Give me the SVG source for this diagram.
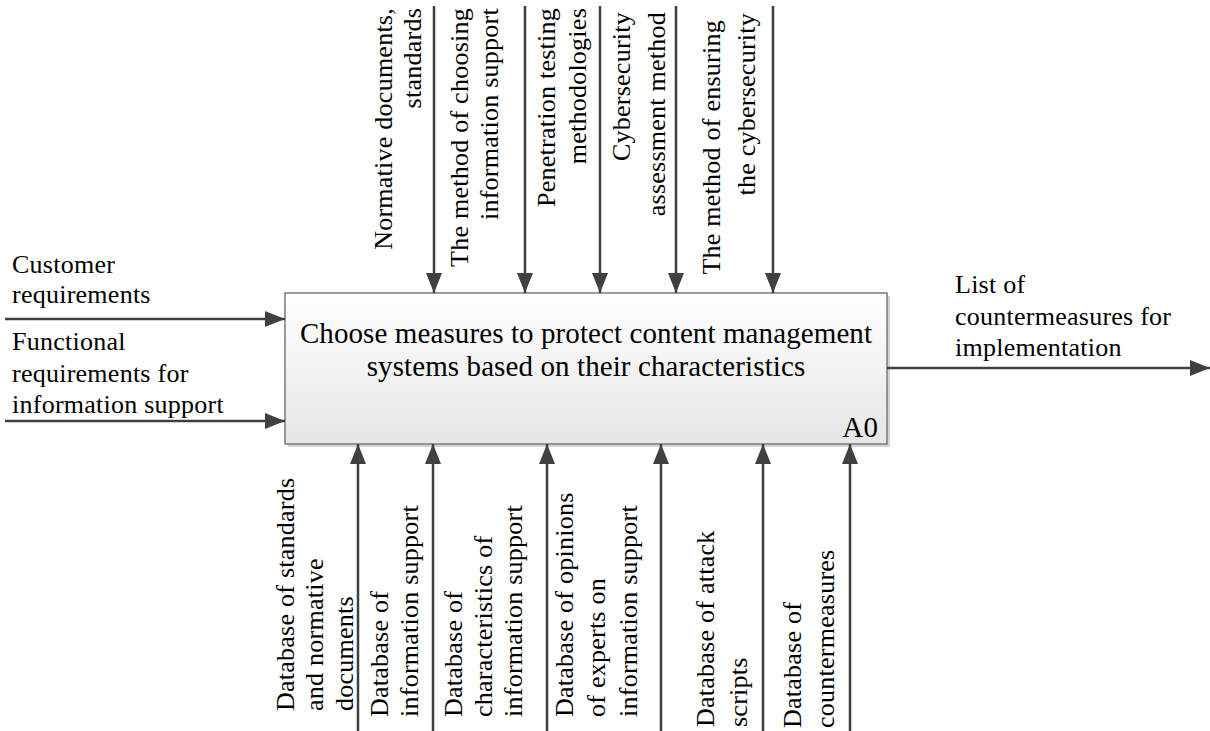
<svg xmlns="http://www.w3.org/2000/svg" width="1210" height="731" viewBox="0 0 1210 731" font-family="'Liberation Serif', 'Times New Roman', 'DejaVu Serif', serif">
<style>
text{font-family:'Liberation Serif','Times New Roman','DejaVu Serif',serif;font-size:26px;fill:#000;letter-spacing:0.25px}
.main{font-size:29px;letter-spacing:0.1px}
.con{stroke:#404040;stroke-width:2.5;fill:none}
.tl text{text-anchor:end}
</style>
<defs>
<linearGradient id="g" x1="0" y1="0" x2="0" y2="1">
<stop offset="0" stop-color="#ffffff"/>
<stop offset="1" stop-color="#e6e6e6"/>
</linearGradient>
<marker id="ah" markerUnits="userSpaceOnUse" markerWidth="20" markerHeight="18" viewBox="0 0 20 18" refX="20" refY="9" orient="auto">
<path d="M0,1 L20,9 L0,17 Z" fill="#404040"/>
</marker>
</defs>
<rect width="1210" height="731" fill="#fff"/>
<g id="A0">
<rect x="288" y="296" width="602" height="151" fill="#d4d4d4"/>
<rect x="285" y="293" width="602" height="151" fill="url(#g)" stroke="#7a7a7a" stroke-width="1.5"/>
<text class="main" x="586" y="343" text-anchor="middle">Choose measures to protect content management</text>
<text class="main" x="586" y="376" text-anchor="middle">systems based on their characteristics</text>
<text class="main" x="878" y="437" text-anchor="end">A0</text>
</g>
<g id="connectors">
<line class="con" x1="5" y1="319" x2="285" y2="319" marker-end="url(#ah)"/>
<line class="con" x1="5" y1="421" x2="285" y2="421" marker-end="url(#ah)"/>
<line class="con" x1="887" y1="368" x2="1210" y2="368" marker-end="url(#ah)"/>
<line class="con" x1="434" y1="6" x2="434" y2="293" marker-end="url(#ah)"/>
<line class="con" x1="525" y1="6" x2="525" y2="293" marker-end="url(#ah)"/>
<line class="con" x1="600" y1="6" x2="600" y2="293" marker-end="url(#ah)"/>
<line class="con" x1="676" y1="6" x2="676" y2="293" marker-end="url(#ah)"/>
<line class="con" x1="773" y1="6" x2="773" y2="293" marker-end="url(#ah)"/>
<line class="con" x1="358" y1="731" x2="358" y2="444" marker-end="url(#ah)"/>
<line class="con" x1="433" y1="731" x2="433" y2="444" marker-end="url(#ah)"/>
<line class="con" x1="547" y1="731" x2="547" y2="444" marker-end="url(#ah)"/>
<line class="con" x1="661" y1="731" x2="661" y2="444" marker-end="url(#ah)"/>
<line class="con" x1="763" y1="731" x2="763" y2="444" marker-end="url(#ah)"/>
<line class="con" x1="850" y1="731" x2="850" y2="444" marker-end="url(#ah)"/>
</g>
<g id="inputs">
<text x="12" y="273">Customer</text>
<text x="12" y="303">requirements</text>
<text x="12" y="350">Functional</text>
<text x="12" y="382">requirements for</text>
<text x="12" y="413">information support</text>
</g>
<g id="output">
<text x="955" y="293">List of</text>
<text x="955" y="325">countermeasures for</text>
<text x="955" y="356">implementation</text>
</g>
<g id="controls" class="tl">
<text transform="translate(392,8) rotate(-90)">Normative documents,</text>
<text transform="translate(421,8) rotate(-90)">standards</text>
<text transform="translate(468,8) rotate(-90)">The method of choosing</text>
<text transform="translate(498,8) rotate(-90)">information support</text>
<text transform="translate(555,8) rotate(-90)">Penetration testing</text>
<text transform="translate(586,8) rotate(-90)">methodologies</text>
<text transform="translate(630,12) rotate(-90)">Cybersecurity</text>
<text transform="translate(665,12) rotate(-90)">assessment method</text>
<text transform="translate(720,20) rotate(-90)">The method of ensuring</text>
<text transform="translate(755,13) rotate(-90)">the cybersecurity</text>
</g>
<g id="mechanisms">
<text transform="translate(294,711) rotate(-90)">Database of standards</text>
<text transform="translate(323,711) rotate(-90)">and normative</text>
<text transform="translate(353,711) rotate(-90)">documents</text>
<text transform="translate(388,717) rotate(-90)">Database of</text>
<text transform="translate(418,717) rotate(-90)">information support</text>
<text transform="translate(462,717) rotate(-90)">Database of</text>
<text transform="translate(492,717) rotate(-90)">characteristics of</text>
<text transform="translate(522,717) rotate(-90)">information support</text>
<text transform="translate(573,717) rotate(-90)">Database of opinions</text>
<text transform="translate(605,717) rotate(-90)">of experts on</text>
<text transform="translate(637,717) rotate(-90)">information support</text>
<text transform="translate(714,727) rotate(-90)">Database of attack</text>
<text transform="translate(747,727) rotate(-90)">scripts</text>
<text transform="translate(801,728) rotate(-90)">Database of</text>
<text transform="translate(834,728) rotate(-90)">countermeasures</text>
</g>
</svg>
